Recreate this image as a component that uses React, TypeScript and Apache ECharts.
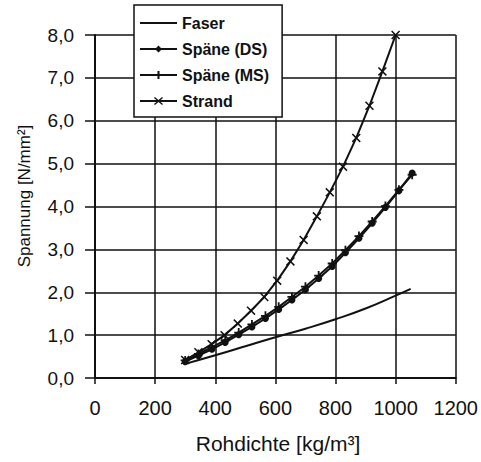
import React, { useEffect, useRef } from "react";
import * as echarts from "echarts";

const xTicks = [0, 200, 400, 600, 800, 1000, 1200];
const yTicks = [0, 1, 2, 3, 4, 5, 6, 7, 8];

const faserX = [300, 400, 500, 600, 700, 800, 900, 1000, 1050];
const faserY = [0.33, 0.53, 0.74, 0.95, 1.15, 1.37, 1.62, 1.92, 2.08];

const spaeneX = [300, 344, 389, 433, 478, 522, 567, 611, 655, 700, 744, 789, 833, 878, 922, 966, 1011, 1055];
const dsY = [0.38, 0.52, 0.67, 0.83, 1.01, 1.19, 1.39, 1.6, 1.82, 2.06, 2.32, 2.6, 2.92, 3.26, 3.61, 3.98, 4.37, 4.78];
const msY = [0.41, 0.56, 0.72, 0.88, 1.06, 1.25, 1.45, 1.66, 1.89, 2.13, 2.39, 2.67, 2.98, 3.31, 3.65, 4.01, 4.39, 4.74];

const strandX = [300, 344, 388, 431, 475, 519, 563, 606, 650, 694, 738, 781, 825, 869, 913, 956, 1000];
const strandY = [0.42, 0.6, 0.79, 1.0, 1.27, 1.57, 1.89, 2.27, 2.72, 3.22, 3.77, 4.33, 4.93, 5.6, 6.35, 7.15, 8.0];

const seriesNames = ["Faser", "Späne (DS)", "Späne (MS)", "Strand"];
const xName = "Rohdichte [kg/m³]";
const yName = "Spannung [N/mm²]";

const pair = (xs: number[], ys: number[]) => xs.map((x, i) => [x, ys[i]]);

const PLUS = "path://M4,0 L6,0 L6,4 L10,4 L10,6 L6,6 L6,10 L4,10 L4,6 L0,6 L0,4 L4,4 Z";
const CROSS = "path://M0,1.2 L1.2,0 L5,3.8 L8.8,0 L10,1.2 L6.2,5 L10,8.8 L8.8,10 L5,6.2 L1.2,10 L0,8.8 L3.8,5 Z";

const ICON_LINE = "path://M0,0 L37,0 L37,2 L0,2 Z";
const ICON_DS = "path://M0,2.5 L37,2.5 L37,4.5 L0,4.5 Z M18.5,0 L22,3.5 L18.5,7 L15,3.5 Z";
const ICON_MS = "path://M0,3 L37,3 L37,5 L0,5 Z M17.5,0 L19.5,0 L19.5,8 L17.5,8 Z";
const ICON_STRAND =
  "path://M0,3 L37,3 L37,5 L0,5 Z M14,0.9 L14.9,0 L18.5,3.1 L22.1,0 L23,0.9 L19.4,4 L23,7.1 L22.1,8 L18.5,4.9 L14.9,8 L14,7.1 L17.6,4 Z";

const INK = "#111111";
const FONT = "'Liberation Sans', Arial, sans-serif";

export default function App() {
  const ref = useRef<HTMLDivElement>(null);
  useEffect(() => {
    document.body.style.margin = "0";
    if (!ref.current) return;
    const chart = echarts.init(ref.current, undefined, { renderer: "svg" });
    const lineStyle = { color: INK, width: 2 };
    chart.setOption({
      animation: false,
      backgroundColor: "#ffffff",
      textStyle: { fontFamily: FONT, color: INK },
      grid: { left: 95, right: 25, top: 35, bottom: 84, containLabel: false },
      legend: {
        orient: "vertical",
        left: 134,
        top: 5,
        padding: [10, 13, 8, 6],
        itemGap: 10,
        itemWidth: 37,
        itemHeight: 15,
        backgroundColor: "#ffffff",
        borderColor: INK,
        borderWidth: 1.5,
        borderRadius: 0,
        symbolKeepAspect: true,
        data: [
          { name: seriesNames[0], icon: ICON_LINE },
          { name: seriesNames[1], icon: ICON_DS },
          { name: seriesNames[2], icon: ICON_MS },
          { name: seriesNames[3], icon: ICON_STRAND },
        ],
        itemStyle: { color: INK },
        textStyle: { fontFamily: FONT, fontSize: 16, color: INK, fontWeight: "bold" },
      },
      xAxis: {
        type: "value",
        min: xTicks[0],
        max: xTicks[xTicks.length - 1],
        interval: 200,
        axisLine: { show: true, lineStyle: { color: INK, width: 2 } },
        axisTick: { show: true, length: 6, lineStyle: { color: INK, width: 1.5 } },
        splitLine: { show: true, lineStyle: { color: INK, width: 1.5 } },
        axisLabel: {
          fontFamily: FONT,
          fontSize: 20,
          color: INK,
          margin: 20,
          formatter: (v: number) => String(v),
        },
      },
      yAxis: {
        type: "value",
        min: yTicks[0],
        max: yTicks[yTicks.length - 1],
        interval: 1,
        axisLine: { show: true, lineStyle: { color: INK, width: 2 } },
        axisTick: { show: true, length: 10, lineStyle: { color: INK, width: 1.5 } },
        splitLine: { show: true, lineStyle: { color: INK, width: 1.5 } },
        axisLabel: {
          fontFamily: FONT,
          fontSize: 19,
          color: INK,
          margin: 21,
          formatter: (v: number) => v.toFixed(1).replace(".", ","),
        },
      },
      graphic: [
        {
          type: "text",
          x: 278,
          y: 443,
          style: { text: xName, fontFamily: FONT, fontSize: 21, fill: INK, align: "center", verticalAlign: "middle" },
        },
        {
          type: "text",
          x: 24,
          y: 196,
          rotation: Math.PI / 2,
          style: { text: yName, fontFamily: FONT, fontSize: 17, fill: INK, align: "center", verticalAlign: "middle" },
        },
      ],
      series: [
        {
          name: seriesNames[0],
          type: "line",
          data: pair(faserX, faserY),
          smooth: true,
          symbol: "none",
          lineStyle,
          itemStyle: { color: INK },
        },
        {
          name: seriesNames[1],
          type: "line",
          data: pair(spaeneX, dsY),
          symbol: "circle",
          symbolSize: 7,
          lineStyle,
          itemStyle: { color: INK },
        },
        {
          name: seriesNames[2],
          type: "line",
          data: pair(spaeneX, msY),
          symbol: PLUS,
          symbolSize: 9,
          lineStyle,
          itemStyle: { color: INK },
        },
        {
          name: seriesNames[3],
          type: "line",
          data: pair(strandX, strandY),
          symbol: CROSS,
          symbolSize: 9,
          lineStyle,
          itemStyle: { color: INK },
        },
      ],
    });
    return () => chart.dispose();
  }, []);
  return <div ref={ref} style={{ width: 481, height: 462 }} />;
}
